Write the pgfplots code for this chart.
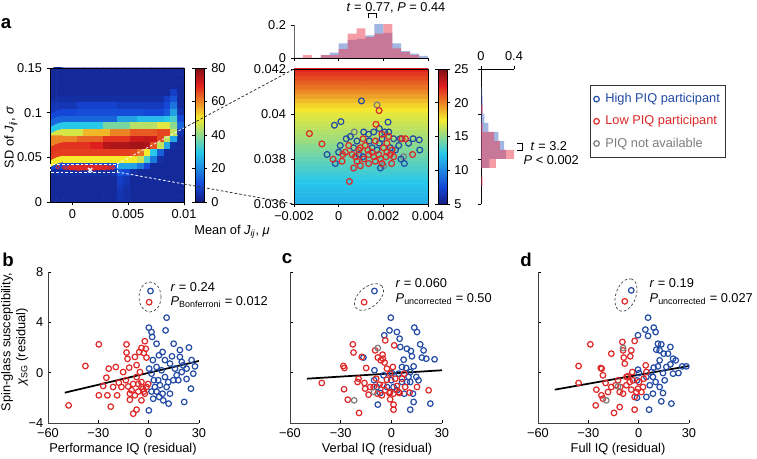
\documentclass[border=0pt]{standalone}
\usepackage{pgfplots}
\pgfplotsset{compat=1.18}
\usepackage{pgfplotstable}
\usepackage{fontspec}
\setmainfont{Liberation Sans}
\definecolor{hblue}{RGB}{35,75,165}
\definecolor{lred}{RGB}{222,40,40}
\definecolor{ngray}{RGB}{125,125,125}
\definecolor{hbfill}{RGB}{70,110,200}
\definecolor{lrfill}{RGB}{235,60,80}
\newcommand{\fs}{\fontsize{9.6}{11.5}\selectfont}
\pgfplotsset{
 colormap={myjet}{rgb255(0pt)=(20,30,130); rgb255(1pt)=(20,70,215); rgb255(3pt)=(40,200,235); rgb255(5pt)=(245,235,45); rgb255(7pt)=(225,30,30); rgb255(8pt)=(125,15,20)},
 base/.style={scale only axis, anchor=south west, enlargelimits=false, tick label style={font=\fs}, label style={font=\fs}, major tick length=2.5pt, tick style={black, line width=0.5pt}, axis line style={line width=0.5pt}},
 scat/.style={base, xmin=-60, xmax=30, ymin=-4, ymax=8, width=113.25pt, height=113.25pt, axis x line*=bottom, axis y line*=left, xtick={-60,-30,0,30}, xticklabels={−60,−30,0,30}, ytick={-4,0,4,8}, tick align=inside, axis line style={black!75}, xticklabel style={yshift=-1pt}},
 bmk/.style={only marks, mark=o, mark size=2.1pt, line width=0.9pt, hblue},
 rmk/.style={only marks, mark=o, mark size=2.1pt, line width=0.9pt, lred},
 gmk/.style={only marks, mark=o, mark size=2.1pt, line width=0.9pt, ngray},
}
% middle panel (a), units 1e-3
\pgfplotstableread{
x y
1.02 40.58
-0.19 39.50
0.10 39.66
2.21 39.64
1.12 39.20
1.57 39.20
1.82 39.35
2.06 39.20
2.24 39.20
0.34 38.90
0.52 39.00
2.46 38.90
2.76 38.90
3.33 38.90
3.61 38.85
3.13 38.70
3.63 38.40
0.07 38.60
0.00 38.30
-0.52 38.20
-0.15 37.80
0.82 38.80
1.37 38.80
1.50 38.50
1.72 38.40
2.31 38.50
2.54 38.40
2.69 38.60
2.79 38.00
2.94 37.80
1.87 37.60
1.09 38.10
0.67 38.50
1.94 38.90
1.34 39.10
0.90 38.20
1.82 38.70
}\ablue
\pgfplotstableread{
x y
1.81 40.15
1.67 39.54
-1.31 39.13
-0.75 38.67
-0.25 37.99
0.15 37.90
0.18 38.20
0.48 37.00
0.67 37.60
0.97 37.70
1.34 37.80
1.64 37.90
2.37 37.80
3.31 38.20
2.84 38.90
2.99 38.90
1.94 39.10
2.24 39.00
1.09 38.90
0.97 38.50
1.19 38.60
1.50 38.30
1.79 38.20
2.01 38.50
2.16 38.30
2.31 38.20
2.46 38.10
0.45 38.60
0.60 38.20
0.75 38.10
0.30 38.30
1.34 38.20
1.12 38.00
1.57 38.10
1.87 38.00
2.12 38.10
1.64 38.80
1.31 38.40
0.90 38.40
2.16 38.70
2.39 38.40
0.82 37.90
1.94 37.80
}\ared
\pgfplotstableread{
x y
1.72 40.40
0.70 39.20
2.91 38.10
2.01 37.70
}\agray
% panel b
\pgfplotstableread{
x y
0.1 3.58
1.7 3.23
2.1 2.84
10.7 4.37
10.1 3.36
4.7 2.3
6.1 1.38
8.3 1.64
13.9 1.3
14.9 2.3
18.6 1.8
18.6 1.25
24.0 2.0
27.6 0.5
26.6 -0.08
25.2 -1.27
21.2 -2.33
11.9 -2.46
8.7 -2.2
0.1 -3.0
1.7 -1.5
3.7 -1.14
5.7 -0.6
4.7 0.45
7.7 0.19
9.7 -0.35
10.7 -1.14
12.7 -1.67
8.3 -1.67
6.3 -1.93
2.7 -2.07
14.7 -0.6
16.7 -0.2
19.7 0.05
20.6 0.58
19.7 0.85
22.6 0.32
25.6 1.0
15.7 0.32
12.7 0.72
9.7 1.0
1.7 -0.08
0.3 0.32
3.1 -0.6
6.7 -1.0
11.7 -0.75
17.7 -0.6
4.7 -1.5
22.6 -0.5
2.5 1.0
1.1 6.49
}\bblue
\pgfplotstableread{
x y
-47.7 -2.6
-37.7 0.53
-29.7 2.25
-29.7 -1.8
-23.8 0.32
-25.2 -0.4
-24.6 -1.8
-22.6 -2.7
-27.1 -1.06
-19.6 0.45
-18.8 -1.8
-17.8 -0.8
-13.2 2.25
-13.2 1.6
-12.6 1.1
-11.6 0.4
-11.2 -2.15
-9.2 -3.26
-7.2 -2.94
-8.2 1.25
-7.2 0.6
-5.6 1.64
-4.3 1.96
-2.9 1.56
-4.3 -2.2
-2.3 2.5
-1.7 1.9
-1.3 1.2
-15.2 0.05
-13.6 -0.6
-12.2 -1.1
-10.2 -1.4
-9.2 -0.9
-7.2 -0.35
-5.2 0.05
-4.3 -0.75
-3.3 -1.3
-2.3 -1.67
-1.3 -1.14
-6.2 -1.5
-8.2 -1.8
-11.2 -1.67
-16.2 -1.14
-21.2 -1.14
-6.2 -0.9
-0.3 -0.9
-4.3 -1.14
-2.9 -1.5
0.3 5.6
}\bred
% panel c
\pgfplotstableread{
x y
-10.0 6.49
-0.3 4.37
-4.2 2.97
-1.1 3.36
3.3 3.23
13.6 3.58
15.2 3.23
4.9 2.7
5.3 2.04
9.2 1.9
11.6 1.72
17.1 2.25
19.1 1.77
18.1 1.2
20.7 1.11
25.6 1.06
7.3 1.03
12.2 1.3
-16.5 1.2
-10.0 0.19
-10.2 -0.6
-4.6 -0.21
6.3 0.45
8.8 0.37
13.2 0.5
11.2 0.05
10.2 -0.34
9.2 -0.74
14.8 -0.34
12.8 -1.67
13.2 -2.33
11.2 -2.94
23.1 -2.46
16.1 -0.61
-8.0 -2.54
-6.6 -1.62
-2.6 -1.14
1.3 -1.14
3.3 -1.4
7.6 -1.67
-8.6 -1.14
-0.1 -0.6
6.3 -0.74
11.2 -0.74
4.3 -0.08
0.3 -0.03
}\cblue
\pgfplotstableread{
x y
-16.1 5.6
-41.2 -0.82
-28.4 0.53
-27.8 0.37
-28.0 -1.32
-25.8 -2.15
-19.1 -3.2
-22.8 2.25
-22.4 1.6
-17.5 1.25
-14.9 0.37
-19.4 -0.48
-20.0 -0.74
-15.9 -0.82
-15.5 -1.27
-13.5 -1.75
-12.5 -1.14
-8.0 1.2
-5.2 1.43
-5.0 1.11
-3.6 2.57
-4.0 0.8
-9.0 -0.48
-7.0 -0.95
-4.6 -1.0
-2.6 -0.56
-1.1 -1.62
-0.7 -2.12
1.3 -2.54
1.3 -2.94
1.7 2.17
0.9 0.45
2.3 -0.48
3.3 -1.06
4.9 -1.62
6.3 -0.48
7.6 -0.08
8.2 -1.14
10.8 -1.59
15.2 -1.14
22.1 -1.4
-0.7 -1.54
-3.6 -1.4
-8.2 -1.67
-10.5 -1.14
-0.7 -0.08
4.3 -1.54
1.3 -1.67
-5.6 -1.8
-2.6 0.32
-9.6 1.77
-6.2 0.98
}\cred
\pgfplotstableread{
x y
-8.0 1.96
-10.2 -1.54
-22.0 -2.2
}\cgray
% panel d
\pgfplotstableread{
x y
-4.4 6.54
5.6 4.37
4.0 3.42
-0.4 2.97
9.0 3.58
10.1 3.23
5.6 2.92
11.5 2.3
13.5 2.25
10.5 1.83
12.5 1.77
14.9 1.51
18.9 2.04
17.5 1.51
20.5 1.11
22.1 0.98
26.0 0.5
28.4 0.5
23.7 -0.03
20.5 -0.08
14.5 -0.03
16.5 0.45
18.9 0.66
12.5 0.98
11.5 0.5
9.0 0.4
7.6 0.05
8.5 -0.34
10.1 -0.74
4.6 -0.34
-0.4 0.24
0.2 -0.03
-1.0 -0.61
6.6 -1.0
8.5 -1.67
4.6 -1.93
14.5 -1.62
13.5 -2.28
19.5 -2.46
6.2 -2.94
-1.0 -1.99
15.5 -0.61
12.5 -1.14
}\dblue
\pgfplotstableread{
x y
-8.3 5.67
-35.8 0.53
-35.8 -0.82
-28.8 2.25
-22.6 0.37
-22.0 0.32
-21.3 -0.21
-25.2 -1.35
-22.2 -1.8
-21.3 -2.07
-25.6 -2.6
-19.7 -0.82
-14.7 -3.2
-16.3 1.51
-11.3 -2.73
-9.7 2.44
-9.3 1.77
-8.9 1.2
-8.3 0.72
-5.0 1.3
-4.4 1.77
-2.4 2.52
-6.4 -0.29
-7.3 -1.0
-13.7 -1.0
-16.3 -1.14
-18.3 -1.54
-11.3 -1.54
-9.3 -1.67
-4.4 -1.35
-2.4 -1.93
-2.4 -2.94
-0.4 -1.27
0.2 -0.74
1.6 -1.54
3.0 -0.48
4.2 0.58
4.6 0.05
2.6 -1.14
-1.4 -1.54
-12.3 -0.61
-5.3 -0.74
-3.4 -0.61
-10.9 -1.14
-7.3 -0.34
-3.8 0.05
}\dred
\pgfplotstableread{
x y
-9.3 1.96
-19.3 -2.2
-12.3 -1.09
}\dgray
\begin{document}
\begin{tikzpicture}[x=0.75pt,y=0.75pt]
\path[use as bounding box] (0,0) rectangle (757,459);
% ---------- heatmap ----------
\begin{axis}[base, at={(37.5pt,192.75pt)}, width=100.5pt, height=100.5pt,
  xmin=-2, xmax=10, ymin=0, ymax=150,
  xtick={0,5,10}, xticklabels={0,0.005,0.01},
  ytick={0,50,100,150}, yticklabels={0,0.05,0.1,0.15},
  xtick pos=left, ytick pos=left, tick align=outside, axis on top,
  colormap name=myjet, point meta min=0, point meta max=80,
  colorbar,
  colorbar shift/.style={xshift=8.25pt},
  colorbar style={at={(parent axis.north east)}, anchor=north west, width=6.75pt, scale only axis,
     ytick={0,20,40,60,80}, yticklabels={0,20,40,60,80}, tick label style={font=\fs},
     tick align=outside, major tick length=2pt, tick style={black,line width=0.5pt}, axis line style={line width=0.5pt}}]
\addplot[matrix plot*, mesh/cols=20, point meta=explicit] table[header=false, row sep=\\,
   x expr={-1.7+0.6*mod(\coordindex,20)}, y expr={3.75+7.5*floor(\coordindex/20)}, meta index=0] {
3\\3\\3\\3\\3\\3\\3\\3\\3\\3\\5\\4\\3\\3\\3\\3\\3\\3\\3\\3\\
3\\3\\3\\3\\3\\3\\3\\3\\3\\3\\6\\4\\3\\3\\3\\3\\3\\3\\3\\3\\
3\\3\\3\\3\\3\\3\\3\\3\\3\\3\\7\\5\\3\\3\\3\\3\\3\\3\\3\\3\\
3\\3\\3\\3\\3\\3\\3\\3\\3\\3\\8\\6\\3\\3\\3\\3\\3\\3\\3\\3\\
4\\4\\4\\4\\4\\4\\4\\4\\4\\5\\12\\10\\5\\3\\3\\3\\3\\3\\3\\3\\
10\\10\\10\\10\\10\\10\\10\\10\\10\\12\\25\\25\\24\\18\\10\\3\\3\\3\\3\\3\\
50\\50\\50\\50\\50\\50\\50\\50\\50\\50\\50\\50\\50\\46\\33\\18\\4\\3\\3\\3\\
67\\67\\67\\67\\67\\67\\67\\67\\67\\67\\67\\67\\66\\62\\50\\30\\14\\3\\3\\3\\
68\\68\\68\\68\\68\\68\\70\\70\\74\\75\\75\\75\\76\\76\\75\\65\\45\\25\\4\\3\\
60\\60\\60\\60\\63\\63\\63\\63\\68\\68\\68\\68\\72\\72\\73\\72\\66\\45\\25\\3\\
47\\47\\47\\47\\47\\55\\55\\55\\55\\60\\60\\60\\64\\64\\64\\64\\66\\66\\45\\5\\
30\\30\\30\\30\\30\\30\\30\\30\\38\\38\\38\\38\\44\\44\\44\\44\\48\\48\\40\\15\\
15\\15\\15\\15\\15\\15\\15\\15\\15\\15\\24\\24\\24\\28\\28\\28\\28\\30\\33\\10\\
10\\10\\10\\10\\11\\11\\11\\11\\11\\11\\11\\11\\11\\11\\10\\10\\10\\13\\24\\5\\
6\\6\\6\\6\\9\\9\\9\\9\\9\\9\\7\\7\\7\\7\\7\\7\\7\\10\\17\\3\\
4\\4\\4\\4\\4\\4\\4\\4\\4\\4\\4\\4\\4\\4\\4\\4\\4\\8\\12\\3\\
3\\3\\3\\3\\3\\3\\3\\3\\3\\3\\3\\3\\3\\3\\3\\3\\3\\3\\8\\3\\
3\\3\\3\\3\\3\\3\\3\\3\\3\\3\\3\\3\\3\\3\\3\\3\\3\\3\\3\\3\\
3\\3\\3\\3\\3\\3\\3\\3\\3\\3\\3\\3\\3\\3\\3\\3\\3\\3\\3\\3\\
3\\3\\3\\3\\3\\3\\3\\3\\3\\3\\3\\3\\3\\3\\3\\3\\3\\3\\3\\3\\
};
\addplot[only marks, mark=o, mark size=1.4pt, line width=0.6pt, lred] table {\ablue};
\addplot[only marks, mark=o, mark size=1.4pt, line width=0.6pt, lred] table {\ared};
\addplot[only marks, mark=o, mark size=1.4pt, line width=0.6pt, lred] table {\agray};
\addplot[only marks, mark=x, mark size=2.2pt, line width=1pt, white] coordinates {(1.6,35.8)};
\end{axis}
% ---------- middle scatter ----------
\begin{axis}[base, at={(220.5pt,191.25pt)}, width=100.5pt, height=101.25pt,
  xmin=-2, xmax=4, ymin=36, ymax=42,
  xtick={-2,0,2,4}, xticklabels={−0.002,0,0.002,0.004},
  ytick={36,38,40,42}, yticklabels={0.036,0.038,0.04,0.042},
  xtick pos=left, ytick pos=left, tick align=outside, axis on top,
  colormap name=myjet, point meta min=5, point meta max=25,
  colorbar,
  colorbar shift/.style={xshift=7.5pt},
  colorbar style={at={(parent axis.north east)}, anchor=north west, width=6.75pt, scale only axis,
     ytick={5,10,15,20,25}, yticklabels={5,10,15,20,25}, tick label style={font=\fs},
     tick align=outside, major tick length=2pt, tick style={black,line width=0.5pt}, axis line style={line width=0.5pt}},
  legend style={at={(2.209,0.881)}, anchor=north west, draw=black!80, line width=0.6pt, font=\fs,
     row sep=4.2pt, column sep=2.5pt, inner xsep=2.5pt, inner ysep=4pt},
  legend cell align=left,
  legend image code/.code={\draw[#1] plot coordinates {(0.08cm,0cm)};}]
\addplot[matrix plot*, mesh/cols=2, point meta=explicit, forget plot] table[header=false, row sep=\\, meta index=2] {
-1 36.0 11.5\\ 3 36.0 11.5\\
-1 36.2 11.7\\ 3 36.2 11.7\\
-1 36.4 11.9\\ 3 36.4 11.9\\
-1 36.6 12.1\\ 3 36.6 12.1\\
-1 36.8 12.3\\ 3 36.8 12.3\\
-1 37.0 12.5\\ 3 37.0 12.5\\
-1 37.2 12.8\\ 3 37.2 12.8\\
-1 37.4 13.1\\ 3 37.4 13.1\\
-1 37.6 13.4\\ 3 37.6 13.4\\
-1 37.8 13.7\\ 3 37.8 13.7\\
-1 38.0 14.0\\ 3 38.0 14.0\\
-1 38.2 14.3\\ 3 38.2 14.3\\
-1 38.4 14.6\\ 3 38.4 14.6\\
-1 38.6 14.9\\ 3 38.6 14.9\\
-1 38.8 15.3\\ 3 38.8 15.3\\
-1 39.0 15.6\\ 3 39.0 15.6\\
-1 39.2 15.9\\ 3 39.2 15.9\\
-1 39.4 16.2\\ 3 39.4 16.2\\
-1 39.6 16.5\\ 3 39.6 16.5\\
-1 39.8 16.8\\ 3 39.8 16.8\\
-1 40.0 17.1\\ 3 40.0 17.1\\
-1 40.2 17.6\\ 3 40.2 17.6\\
-1 40.4 18.1\\ 3 40.4 18.1\\
-1 40.6 18.7\\ 3 40.6 18.7\\
-1 40.8 19.3\\ 3 40.8 19.3\\
-1 41.0 19.9\\ 3 41.0 19.9\\
-1 41.2 20.4\\ 3 41.2 20.4\\
-1 41.4 20.9\\ 3 41.4 20.9\\
-1 41.6 21.4\\ 3 41.6 21.4\\
-1 41.8 21.9\\ 3 41.8 21.9\\
-1 42.0 22.4\\ 3 42.0 22.4\\
};
\addplot[gmk, mark size=2.2pt, forget plot] table {\agray};
\addplot[bmk, mark size=2.2pt, forget plot] table {\ablue};
\addplot[rmk, mark size=2.2pt, forget plot] table {\ared};
\addlegendimage{bmk}
\addlegendentry{\textcolor{hblue}{High PIQ participant}}
\addlegendimage{rmk}
\addlegendentry{\textcolor{lred}{Low PIQ participant}}
\addlegendimage{gmk}
\addlegendentry{\textcolor{ngray}{PIQ not available}}
\end{axis}
% ---------- top histogram ----------
\begin{axis}[base, at={(220.5pt,300.75pt)}, width=100.5pt, height=24.75pt,
  xmin=-2, xmax=4, ymin=0, ymax=0.2,
  axis x line*=bottom, axis y line*=left, tick align=outside,
  xtick={-2,0,2,4}, xticklabels={}, ytick={0,0.2}, yticklabels={0,0.2},
  y axis line style={black!60}]
\addplot[ybar interval, fill=hbfill, fill opacity=0.5, draw=none] coordinates {
(-2,0) (-1.6,0) (-1.2,0) (-0.8,0.017) (-0.4,0.032) (0,0.088) (0.4,0.11) (0.8,0.116) (1.2,0.137) (1.6,0.206) (2.0,0.152) (2.4,0.088) (2.8,0.042) (3.2,0.027) (3.6,0.013) (4.0,0.013)};
\addplot[ybar interval, fill=lrfill, fill opacity=0.5, draw=none] coordinates {
(-2,0) (-1.6,0.017) (-1.2,0) (-0.8,0.017) (-0.4,0.017) (0,0.053) (0.4,0.147) (0.8,0.179) (1.2,0.126) (1.6,0.147) (2.0,0.206) (2.4,0.059) (2.8,0.036) (3.2,0.017) (3.6,0) (4.0,0)};
\end{axis}
% ---------- right histogram ----------
\begin{axis}[base, at={(360.75pt,191.25pt)}, width=24.75pt, height=101.25pt,
  xmin=0, xmax=0.4, ymin=36, ymax=42,
  axis x line*=top, axis y line*=left, tick align=outside,
  xtick={0,0.4}, xticklabels={0,0.4}, ytick={36,38,40,42}, yticklabels={}]
\addplot[xbar interval, fill=hbfill, fill opacity=0.5, draw=none] coordinates {
(0,36.0) (0,36.4) (0,36.8) (0,37.2) (0.10,37.6) (0.30,38.0) (0.28,38.4) (0.21,38.8) (0.09,39.2) (0.04,39.6) (0.02,40.0) (0.02,40.4) (0.015,40.8) (0,41.2) (0,41.6) (0,42.0)};
\addplot[xbar interval, fill=lrfill, fill opacity=0.5, draw=none] coordinates {
(0,36.0) (0,36.4) (0.02,36.8) (0,37.2) (0.18,37.6) (0.40,38.0) (0.23,38.4) (0.16,38.8) (0.02,39.2) (0,39.6) (0.02,40.0) (0,40.4) (0,40.8) (0,41.2) (0,41.6) (0,42.0)};
\end{axis}
% ---------- panel b ----------
\begin{axis}[scat, at={(36pt,27pt)}, yticklabels={−4,0,4,8}]
\addplot[bmk] table {\bblue};
\addplot[rmk] table {\bred};
\addplot[black, line width=1.3pt] coordinates {(-50,-1.59) (30,0.93)};
\end{axis}
% ---------- panel c ----------
\begin{axis}[scat, at={(217.5pt,27pt)}, width=114pt, yticklabels={}]
\addplot[bmk] table {\cblue};
\addplot[rmk] table {\cred};
\addplot[gmk] table {\cgray};
\addplot[black, line width=1.3pt] coordinates {(-50,-0.48) (30,0.19)};
\end{axis}
% ---------- panel d ----------
\begin{axis}[scat, at={(403.5pt,27pt)}, yticklabels={}]
\addplot[bmk] table {\dblue};
\addplot[rmk] table {\dred};
\addplot[gmk] table {\dgray};
\addplot[black, line width=1.3pt] coordinates {(-50,-1.35) (30,0.53)};
\end{axis}
% ---------- annotations ----------
\draw[white, line width=0.6pt, dash pattern=on 2pt off 1.5pt] (50,295) rectangle (117,287);
\draw[white, line width=0.6pt, dash pattern=on 2pt off 1.5pt] (117,295) -- (184,331);
\draw[white, line width=0.6pt, dash pattern=on 2pt off 1.5pt] (117,287) -- (184,275);
\draw[black!80, line width=0.6pt, dash pattern=on 2pt off 1.5pt] (184,331) -- (294,390);
\draw[black!80, line width=0.6pt, dash pattern=on 2pt off 1.5pt] (184,275) -- (294,255);
\node[font=\fontsize{14}{16}\selectfont\bfseries] at (6,435) {a};
\node[font=\fontsize{14}{16}\selectfont\bfseries] at (8,199) {b};
\node[font=\fontsize{14}{16}\selectfont\bfseries] at (287,200) {c};
\node[font=\fontsize{14}{16}\selectfont\bfseries] at (526,199) {d};
\node[font=\fs] at (232,227) {Mean of \textit{J}\textsubscript{\textit{ij}}, \textit{μ}};
\node[font=\fs, rotate=90] at (11,322) {SD of \textit{J}\textsubscript{\textit{ij}}, \textit{σ}};
\node[font=\fs] at (396,451) {\textit{t} = 0.77, \textit{P} = 0.44};
\draw[line width=0.6pt] (368,441) -- (368,446) -- (376,446) -- (376,441);
\draw[line width=0.6pt] (517,316) -- (522,316) -- (522,309) -- (517,309);
\node[font=\fs, anchor=west] at (526,313) {\textit{t} = 3.2};
\node[font=\fs, anchor=west] at (519,299) {\textit{P} < 0.002};
% panel b-d text
\node[font=\fs, rotate=90] at (7,117) {Spin-glass susceptibility,};
\node[font=\fs, rotate=90] at (22,112) {\textit{χ}\textsubscript{SG} (residual)};
\node[font=\fs] at (123,10) {Performance IQ (residual)};
\node[font=\fs] at (377,10) {Verbal IQ (residual)};
\node[font=\fs] at (618,10) {Full IQ (residual)};
\node[font=\fs, anchor=west] at (166,172) {\textit{r} = 0.24};
\node[font=\fs, anchor=west] at (166,157) {\textit{P}\textsubscript{Bonferroni} = 0.012};
\node[font=\fs, anchor=west] at (391,176) {\textit{r} = 0.060};
\node[font=\fs, anchor=west] at (391,160) {\textit{P}\textsubscript{uncorrected} = 0.50};
\node[font=\fs, anchor=west] at (645,176) {\textit{r} = 0.19};
\node[font=\fs, anchor=west] at (645,160) {\textit{P}\textsubscript{uncorrected} = 0.027};
\draw[black!75, line width=0.5pt, dash pattern=on 2pt off 1.5pt] (150,162) ellipse [x radius=11, y radius=15];
\draw[black!75, line width=0.5pt, dash pattern=on 2pt off 1.5pt, rotate around={40:(369,162)}] (369,162) ellipse [x radius=17, y radius=10];
\draw[black!75, line width=0.5pt, dash pattern=on 2pt off 1.5pt, rotate around={70:(626,164)}] (626,164) ellipse [x radius=17, y radius=10];
\end{tikzpicture}
\end{document}
